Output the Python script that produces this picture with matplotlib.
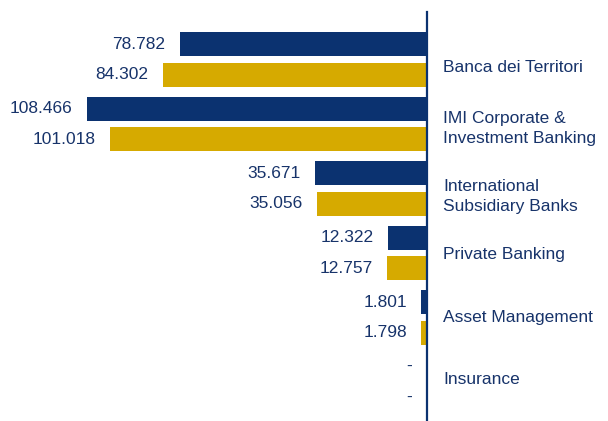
import matplotlib
matplotlib.use("Agg")
import matplotlib.pyplot as plt
import numpy as np

plt.rcParams['font.family'] = ['Liberation Sans', 'DejaVu Sans']

# divisions, top to bottom
categories = ['Banca dei Territori', 'IMI Corporate &\nInvestment Banking',
              'International\nSubsidiary Banks', 'Private Banking',
              'Asset Management', 'Insurance']
# two periods (navy first, gold second); 0 means not applicable ("-")
values_navy = [78.782, 108.466, 35.671, 12.322, 1.801, 0]
values_gold = [84.302, 101.018, 35.056, 12.757, 1.798, 0]

# the category labels don't sit exactly on the bar pairs in the original
label_shift = [6, 3, 6, 1, 0, -1.5]   # points, downward

navy = '#0b3270'
gold = '#d6aa00'
text_col = '#17336a'
fs = 12.5

fig = plt.figure(figsize=(6.08, 4.21), dpi=100)
ax = fig.add_axes([0, 0, 427 / 608, 409 / 421])

y = np.arange(len(categories))
h = 0.37
off = 0.235

ax.barh(y - off, values_navy, height=h, color=navy)
ax.barh(y + off, values_gold, height=h, color=gold)

for yi, v in zip(y - off, values_navy):
    lab = f"{v:.3f}" if v else '-'
    ax.annotate(lab, (v, yi), xytext=(-10.5, 0), textcoords='offset points',
                ha='right', va='center', fontsize=fs, color=text_col)
for yi, v in zip(y + off, values_gold):
    lab = f"{v:.3f}" if v else '-'
    ax.annotate(lab, (v, yi), xytext=(-10.5, 0), textcoords='offset points',
                ha='right', va='center', fontsize=fs, color=text_col)

for yi, c, dy in zip(y, categories, label_shift):
    ax.annotate(c, (0, yi), xytext=(11.5, -dy), textcoords='offset points',
                ha='left', va='center', fontsize=fs, color=text_col,
                linespacing=1.4, annotation_clip=False)

ax.set_xlim(136.2, 0)
ax.set_ylim(5.605, -0.736)
for s in ['top', 'bottom', 'left']:
    ax.spines[s].set_visible(False)
ax.spines['right'].set_color(navy)
ax.spines['right'].set_linewidth(1.6)
ax.set_xticks([])
ax.set_yticks([])

fig.savefig('out.png', dpi=100)
